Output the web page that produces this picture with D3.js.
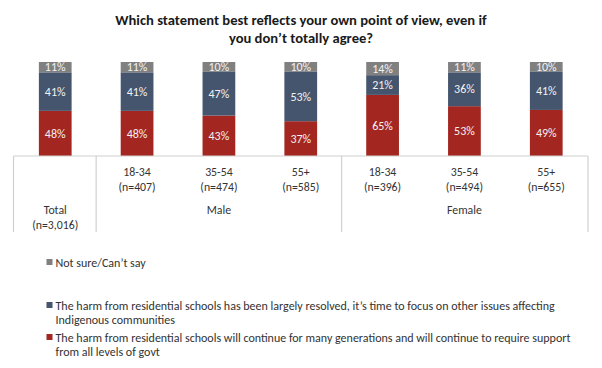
<!DOCTYPE html>
<html><head><meta charset="utf-8">
<script src="https://cdn.jsdelivr.net/npm/d3@7"></script>
<style>
body{margin:0;background:#fff;}
svg text{font-family:Carlito,"Liberation Sans Narrow","Arial Narrow",Lato,sans-serif;}
</style></head>
<body><svg id="c" width="602" height="368"></svg>
<script>
const categories = ["Total", "M18-34", "M35-54", "M55+", "F18-34", "F35-54", "F55+"];
const ageLabels = ["", "18-34", "35-54", "55+", "18-34", "35-54", "55+"];
const nLabels = ["", "(n=407)", "(n=474)", "(n=585)", "(n=396)", "(n=494)", "(n=655)"];
const continueVals = [48, 48, 43, 37, 65, 53, 49];
const resolvedVals = [41, 41, 47, 53, 21, 36, 41];
const notSureVals = [11, 11, 10, 10, 14, 11, 10];
const groups = [
  {name: ["Total", "(n=3,016)"], members: ["Total"]},
  {name: ["Male"], members: ["M18-34", "M35-54", "M55+"]},
  {name: ["Female"], members: ["F18-34", "F35-54", "F55+"]}
];
const seriesNames = ["continue", "resolved", "notsure"];
const legendLabels = [
  ["Not sure/Can\u2019t say"],
  ["The harm from residential schools has been largely resolved, it\u2019s time to focus on other issues affecting", "Indigenous communities"],
  ["The harm from residential schools will continue for many generations and will continue to require support", "from all levels of govt"]
];
const colors = {continue: "#a32621", resolved: "#45556d", notsure: "#808080"};

const svg = d3.select("#c");
const x = d3.scaleBand().domain(categories).range([13.5, 588]).paddingInner(0.6).paddingOuter(0.31);
const y = d3.scaleLinear().domain([0, 100]).range([156, 62]);

// title
const title = svg.append("text").attr("text-anchor", "middle").attr("font-weight", "bold")
  .attr("font-size", 14.6).attr("fill", "#1a1a1a");
title.append("tspan").attr("x", 301).attr("y", 25).text("Which statement best reflects your own point of view, even if");
title.append("tspan").attr("x", 301).attr("y", 43).text("you don\u2019t totally agree?");

const rows = categories.map((c, i) => ({cat: c, continue: continueVals[i], resolved: resolvedVals[i], notsure: notSureVals[i]}));
const stack = d3.stack().keys(seriesNames)(rows);

const g = svg.append("g");
stack.forEach(layer => {
  const key = layer.key;
  g.selectAll(null).data(layer).enter().append("rect")
    .attr("x", d => x(d.data.cat)).attr("width", x.bandwidth())
    .attr("y", d => y(d[1])).attr("height", d => y(d[0]) - y(d[1]))
    .attr("fill", colors[key]);
  g.selectAll(null).data(layer).enter().append("text")
    .attr("x", d => x(d.data.cat) + x.bandwidth() / 2)
    .attr("y", d => (y(d[0]) + y(d[1])) / 2 + 4.2)
    .attr("text-anchor", "middle").attr("font-size", 12).attr("fill", "#f2f2f2")
    .text(d => d.data[key] + "%");
});

// category axis
const axisY = 156, axisBottom = 232;
const lineColor = "#d0d0d0";
const [r0, r1] = x.range();
svg.append("line").attr("x1", r0).attr("x2", r1).attr("y1", axisY).attr("y2", axisY)
  .attr("stroke", lineColor).attr("stroke-width", 1.2);
const mid = (a, b) => (x(a) + x(b) + x.bandwidth()) / 2;
const seps = [r0, mid("Total", "M18-34"), mid("M55+", "F18-34"), r1];
seps.forEach(sx => svg.append("line").attr("x1", sx).attr("x2", sx).attr("y1", axisY).attr("y2", axisBottom)
  .attr("stroke", lineColor).attr("stroke-width", 1.2));

categories.forEach((c, i) => {
  if (!ageLabels[i]) return;
  const cx = x(c) + x.bandwidth() / 2;
  svg.append("text").attr("x", cx).attr("y", 176).attr("text-anchor", "middle").attr("font-size", 11.8)
    .attr("fill", "#333").text(ageLabels[i]);
  svg.append("text").attr("x", cx).attr("y", 191).attr("text-anchor", "middle").attr("font-size", 11.8)
    .attr("fill", "#333").text(nLabels[i]);
});
groups.forEach(gr => {
  const mem = gr.members[Math.floor(gr.members.length / 2)];
  const cx = x(mem) + x.bandwidth() / 2;
  gr.name.forEach((t, j) => {
    svg.append("text").attr("x", cx).attr("y", 214 + j * 14.5).attr("text-anchor", "middle")
      .attr("font-size", 11.8).attr("fill", "#333").text(t);
  });
});

// legend
const legendKeys = ["notsure", "resolved", "continue"];
const legendY = [262, 305, 337];
legendKeys.forEach((k, i) => {
  svg.append("rect").attr("x", 46.5).attr("y", legendY[i] - 3).attr("width", 6).attr("height", 6).attr("fill", colors[k]);
  legendLabels[i].forEach((t, j) => {
    svg.append("text").attr("x", 55.5).attr("y", legendY[i] + 4.5 + j * 14.5).attr("font-size", 12)
      .attr("fill", "#333").text(t);
  });
});
</script></body></html>
